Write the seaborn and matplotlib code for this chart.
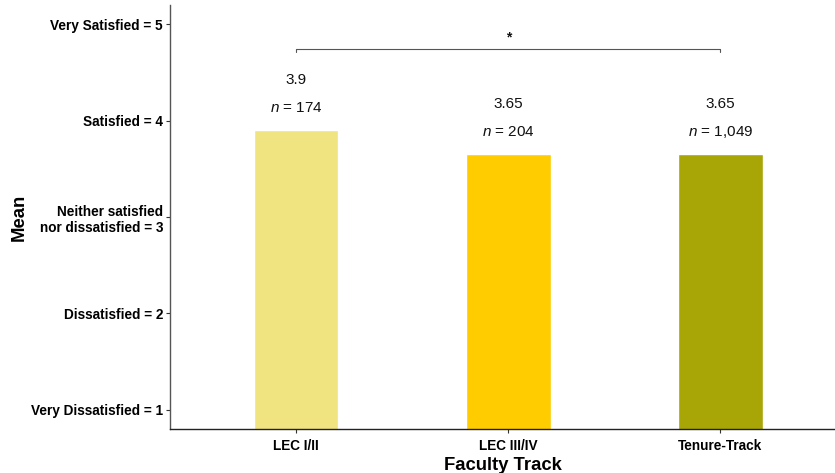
import matplotlib
matplotlib.use("Agg")
import matplotlib.pyplot as plt
import seaborn as sns
import pandas as pd

# Mean satisfaction by faculty track
tracks = ["LEC I/II", "LEC III/IV", "Tenure-Track"]
means = [3.9, 3.65, 3.65]
counts = [174, 204, 1049]
colors = ["#F0E480", "#FFCC00", "#A8A507"]
ytick_vals = [1, 2, 3, 4, 5]
ytick_labels = ["Very Dissatisfied = 1", "Dissatisfied = 2",
                "Neither satisfied\nnor dissatisfied = 3",
                "Satisfied = 4", "Very Satisfied = 5"]

sns.set_style("white")
plt.rcParams["font.family"] = ["Liberation Sans", "DejaVu Sans"]
plt.rcParams["mathtext.fontset"] = "custom"
plt.rcParams["mathtext.it"] = "Liberation Sans:italic"
plt.rcParams["mathtext.rm"] = "Liberation Sans"

df = pd.DataFrame({"track": tracks, "mean": means})

fig = plt.figure(figsize=(8.35, 4.73), dpi=100)
ax = fig.add_axes([0.2036, 0.093, 0.7964, 0.896])

sns.barplot(data=df, x="track", y="mean", hue="track", palette=colors,
            width=0.4, legend=False, ax=ax, saturation=1)

ax.set_ylim(0.8, 5.2)
ax.set_xlim(-0.594, 2.54)
ax.set_yticks(ytick_vals)
ax.set_yticklabels(ytick_labels, fontweight="bold", fontsize=9.8, color="black")
for lab in ax.get_xticklabels():
    lab.set_fontweight("bold")
    lab.set_fontsize(9.8)
    lab.set_color("black")

ax.set_xlabel("Faculty Track", fontweight="bold", fontsize=13.3, labelpad=3, color="black")
ax.set_ylabel("Mean", fontweight="bold", fontsize=13.3, labelpad=2.6, color="black")

ax.tick_params(axis="y", length=3, width=0.8, color="#333333", pad=2, left=True)
ax.tick_params(axis="x", length=3, width=0.8, color="#333333", pad=4, bottom=True)
for side in ["top", "right"]:
    ax.spines[side].set_visible(False)
ax.spines["left"].set_color("#555555")
ax.spines["left"].set_linewidth(1.0)
ax.spines["bottom"].set_color("#222222")
ax.spines["bottom"].set_linewidth(1.0)

# Value and sample-size labels above bars
for i, (m, n) in enumerate(zip(means, counts)):
    ax.text(i, m + 0.525, f"{m:g}", ha="center", va="center", fontsize=11, color="#111111")
    ax.text(i, m + 0.235, f"$n$ = {n:,}", ha="center", va="center", fontsize=11, color="#111111")

# Significance bracket between the outer groups
yb = 4.75
ax.plot([0, 0, 2, 2], [yb - 0.04, yb, yb, yb - 0.04], color="#555555", lw=0.8)
ax.text(1, yb + 0.11, "*", ha="center", va="center", fontsize=10, fontweight="bold", color="#111111")

fig.savefig("out.png", dpi=100)
